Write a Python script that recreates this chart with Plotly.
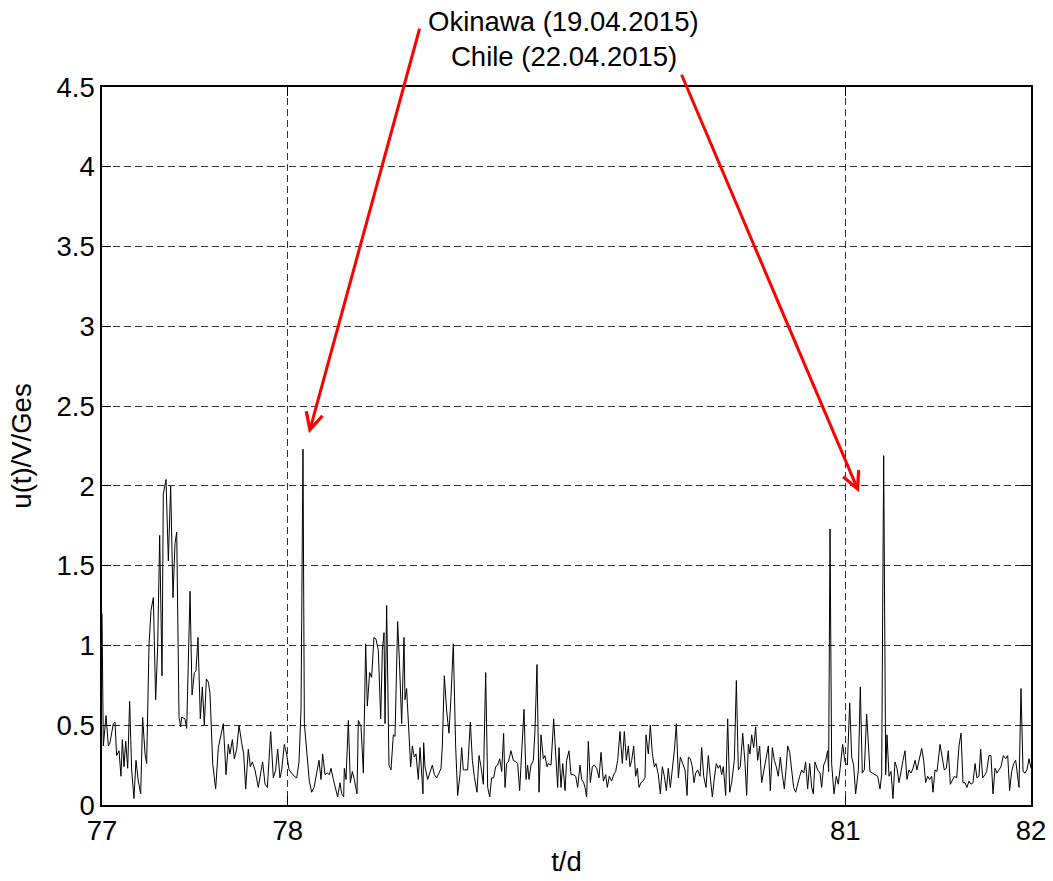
import plotly.graph_objects as go

# Ratio u(t)/V/Ges, sampled time in hours from the start of day 77
hours = [
    0.00, 0.17, 0.52, 0.82, 1.03, 1.46, 1.68, 1.89, 2.20, 2.45, 2.63, 2.84, 3.06, 3.32, 3.57, 3.83,
    4.13, 4.39, 4.69, 5.00, 5.25, 5.56, 5.77, 6.07, 6.33, 6.63, 6.93, 7.19, 7.45, 7.75, 7.92, 8.27,
    8.57, 8.87, 9.17, 9.43, 9.65, 9.95, 10.16, 10.29, 10.72, 10.94, 11.37, 11.63, 11.93, 12.14, 12.40,
    12.70, 12.96, 13.22, 13.48, 13.74, 13.95, 14.30, 14.68, 15.03,
    15.67, 16.02, 16.32, 16.53, 16.84, 17.09, 17.40, 17.70, 18.04, 18.30, 18.56, 18.90, 19.16, 19.42,
    19.76, 20.19, 20.50, 20.75, 21.06, 21.36, 21.79, 22.13, 22.43, 22.69, 22.99, 23.21, 23.55, 23.85,
    24.16, 24.50, 24.84, 25.15, 25.45, 25.71, 25.96, 26.14, 26.44, 26.78, 27.08, 27.39, 27.73, 28.03,
    28.29, 28.50, 28.81, 29.11, 29.37, 29.58, 29.88, 30.18, 30.44, 30.74,
    30.96, 31.22, 31.30, 31.52, 31.82, 32.08, 32.34, 32.59, 32.94, 33.11, 33.46, 33.76, 34.06, 34.27,
    34.57, 34.83, 35.13, 35.39, 35.69, 36.00, 36.21, 36.43, 36.56, 36.77, 36.90, 37.07, 37.33, 37.63,
    37.85, 38.19, 38.41, 38.71, 39.01, 39.14, 39.35, 39.66, 39.87, 40.09, 40.34, 40.56, 40.86, 41.08,
    41.29, 41.46, 41.55, 41.72, 42.07, 42.37, 42.67, 42.93, 43.23, 43.53, 43.79, 43.96, 44.22, 44.52,
    44.82, 45.08, 45.38, 45.68, 45.94, 46.24,
    46.46, 46.67, 46.89, 47.23, 47.58, 47.84, 48.09, 48.44, 48.70, 48.96, 49.26, 49.56, 49.82, 50.08,
    50.33, 50.59, 50.85, 51.11, 51.37, 51.63, 51.88, 52.06, 52.27, 52.49, 52.83, 53.13, 53.48, 53.69,
    53.95, 54.21, 54.51, 54.77, 54.98, 55.16, 55.42, 55.72, 55.93, 56.19, 56.45, 56.71, 57.01, 57.22,
    57.48, 57.65, 58.00, 58.34, 58.60, 58.86, 59.03, 59.29, 59.51, 59.81, 60.02, 60.32, 60.58, 60.88,
    61.19, 61.44, 61.75,
    61.96, 62.22, 62.39, 62.60, 62.82, 63.08, 63.34, 63.59, 63.90, 64.20, 64.46, 64.76, 65.06, 65.27,
    65.53, 65.83, 66.09, 66.35, 66.61, 66.91, 67.21, 67.47, 67.73, 67.99, 68.20, 68.42, 68.68, 68.93,
    69.15, 69.37, 69.62, 69.88, 70.14, 70.27, 70.57, 70.83, 71.09, 71.35, 71.56, 71.86, 72.12, 72.38,
    72.64, 72.90, 73.15, 73.41, 73.67, 73.93, 74.19, 74.45, 74.70, 74.96, 75.31, 75.57, 75.74, 76.00,
    76.25, 76.47, 76.69, 76.94, 77.25,
    77.46, 77.72, 78.02, 78.32, 78.54, 78.84, 79.10, 79.35, 79.61, 79.83, 80.04, 80.26, 80.56, 80.82,
    81.08, 81.33, 81.68, 81.94, 82.20, 82.45, 82.76, 83.06, 83.27, 83.49, 83.70, 83.92, 84.18, 84.43,
    84.69, 84.95, 85.21, 85.51, 85.77, 86.07, 86.33, 86.59, 86.85, 87.10, 87.36, 87.62, 87.88, 88.14,
    88.40, 88.57, 88.83, 89.08, 89.34, 89.60, 89.86, 90.12, 90.38, 90.64, 90.89, 91.15, 91.41, 91.67,
    91.88, 92.10, 92.44, 92.75,
    92.96, 93.22, 93.48, 93.73, 93.86, 94.04, 94.25, 94.55, 94.85, 95.11, 95.37, 95.67, 95.97, 96.28,
    96.58, 96.84, 97.09, 97.35, 97.70, 97.95, 98.21, 98.47, 98.77, 99.07, 99.20, 99.50, 99.85, 100.19,
    100.50, 100.71, 100.97, 101.23, 101.40, 101.66, 101.92, 102.17, 102.43, 102.69, 102.95, 103.21,
    103.47, 103.72, 103.98, 104.24, 104.50, 104.76, 105.02, 105.27, 105.53, 105.88, 106.14, 106.39,
    106.65, 106.91, 107.17, 107.34, 107.60, 107.86, 108.25,
    108.55, 108.80, 109.06, 109.32, 109.58, 109.84, 110.10, 110.40, 110.70, 110.96, 111.22, 111.47,
    111.73, 111.99, 112.25, 112.51, 112.77, 113.02, 113.28, 113.50, 113.76, 114.06, 114.27, 114.57,
    114.83, 115.09, 115.35, 115.61, 115.87, 116.12, 116.43, 116.73, 116.99, 117.24, 117.50, 117.76,
    118.02, 118.28, 118.45, 118.71, 118.97, 119.22, 119.48, 119.74, 120.00,
]

u_ratio = [
    1.20, 0.37, 0.56, 0.37, 0.39, 0.51, 0.52, 0.31, 0.34, 0.18, 0.41, 0.24, 0.40, 0.23, 0.65, 0.22,
    0.04, 0.28, 0.15, 0.07, 0.55, 0.32, 0.26, 1.00, 1.22, 1.30, 0.66, 0.99, 1.69, 0.81, 1.95, 2.04,
    1.53, 2.00, 1.30, 1.64, 1.71, 0.55, 0.49, 0.55, 0.54, 0.48, 1.34, 0.69, 0.83, 0.84, 1.05,
    0.54, 0.74, 0.50, 0.79, 0.77, 0.70, 0.26, 0.10, 0.36,
    0.51, 0.19, 0.38, 0.32, 0.41, 0.29, 0.35, 0.50, 0.39, 0.32, 0.10, 0.35, 0.24, 0.27,
    0.22, 0.11, 0.20, 0.27, 0.13, 0.11, 0.46, 0.17, 0.22, 0.35, 0.17, 0.22, 0.38, 0.32,
    0.22, 0.20, 0.18, 0.17, 0.27, 0.60, 2.23, 0.51, 0.32, 0.15, 0.08, 0.11, 0.20, 0.28,
    0.16, 0.32, 0.19, 0.20, 0.19, 0.23, 0.16, 0.11, 0.05, 0.14,
    0.07, 0.05, 0.23, 0.16, 0.53, 0.14, 0.21, 0.16, 0.07, 0.53, 0.49, 0.20, 1.01, 0.62,
    0.83, 0.80, 1.05, 1.04, 0.97, 0.54, 0.97, 1.08, 0.51, 1.25, 0.91, 0.25, 0.22, 0.44,
    0.43, 1.15, 0.91, 0.51, 1.05, 0.66, 0.73, 0.39, 0.24, 0.37, 0.30, 0.32, 0.16, 0.36,
    0.18, 0.07, 0.39, 0.24, 0.16, 0.21, 0.25, 0.19, 0.17, 0.20, 0.23, 0.37, 0.81, 0.59,
    0.45, 0.68, 1.01, 0.37, 0.06, 0.19,
    0.36, 0.22, 0.22, 0.22, 0.52, 0.28, 0.18, 0.08, 0.31, 0.24, 0.13, 0.83, 0.11, 0.05,
    0.17, 0.17, 0.24, 0.25, 0.29, 0.21, 0.45, 0.11, 0.26, 0.27, 0.34, 0.28, 0.27, 0.26,
    0.09, 0.32, 0.60, 0.16, 0.25, 0.16, 0.25, 0.28, 0.47, 0.88, 0.08, 0.44, 0.29, 0.31,
    0.24, 0.26, 0.25, 0.54, 0.32, 0.11, 0.36, 0.11, 0.26, 0.09, 0.28, 0.34, 0.19, 0.19,
    0.18, 0.11, 0.25,
    0.16, 0.14, 0.11, 0.05, 0.40, 0.14, 0.24, 0.25, 0.23, 0.17, 0.33, 0.15, 0.19, 0.11,
    0.18, 0.15, 0.19, 0.21, 0.28, 0.46, 0.26, 0.46, 0.28, 0.37, 0.24, 0.28, 0.37, 0.18,
    0.23, 0.11, 0.14, 0.15, 0.17, 0.44, 0.32, 0.50, 0.32, 0.24, 0.26, 0.19, 0.07, 0.24,
    0.18, 0.09, 0.23, 0.11, 0.22, 0.34, 0.51, 0.17, 0.30, 0.26, 0.22, 0.06, 0.30, 0.29,
    0.24, 0.14, 0.20, 0.22, 0.18,
    0.36, 0.18, 0.11, 0.31, 0.19, 0.05, 0.17, 0.26, 0.23, 0.25, 0.19, 0.24, 0.06, 0.54,
    0.08, 0.14, 0.28, 0.78, 0.22, 0.24, 0.45, 0.26, 0.06, 0.38, 0.32, 0.44, 0.36, 0.49,
    0.28, 0.37, 0.14, 0.22, 0.28, 0.37, 0.09, 0.36, 0.28, 0.24, 0.18, 0.30, 0.19, 0.10,
    0.25, 0.37, 0.33, 0.21, 0.11, 0.08, 0.14, 0.18, 0.22, 0.20, 0.27, 0.10, 0.26, 0.11,
    0.07, 0.27, 0.22, 0.20,
    0.11, 0.25, 0.28, 0.34, 0.21, 1.73, 0.26, 0.07, 0.18, 0.13, 0.24, 0.38, 0.27, 0.25,
    0.64, 0.30, 0.25, 0.07, 0.22, 0.74, 0.20, 0.22, 0.57, 0.25, 0.21, 0.20, 0.19, 0.18,
    0.10, 0.19, 2.19, 0.19, 0.44, 0.18, 0.21, 0.04, 0.27, 0.23, 0.14, 0.22,
    0.28, 0.34, 0.16, 0.22, 0.20, 0.23, 0.28, 0.22, 0.28, 0.355, 0.28, 0.14,
    0.18, 0.16, 0.18, 0.08, 0.22, 0.21, 0.38,
    0.30, 0.22, 0.23, 0.34, 0.13, 0.16, 0.18, 0.17, 0.37, 0.45, 0.14, 0.14,
    0.11, 0.15, 0.13, 0.14, 0.26, 0.17, 0.18, 0.35, 0.17, 0.19, 0.21, 0.31,
    0.31, 0.07, 0.23, 0.20, 0.22, 0.24, 0.31, 0.29, 0.31, 0.09, 0.21, 0.26,
    0.28, 0.17, 0.11, 0.73, 0.21, 0.20, 0.22, 0.29, 0.23,
]

START_DAY = 77
x_ticks = [77, 78, 81, 82]
y_ticks = [0, 0.5, 1, 1.5, 2, 2.5, 3, 3.5, 4, 4.5]
y_tick_text = ["0", "0.5", "1", "1.5", "2", "2.5", "3", "3.5", "4", "4.5"]

# Events marked on the chart: (label, day, value at arrow tip)
event_labels = ["Okinawa (19.04.2015)", "Chile (22.04.2015)"]
event_days = [78.114, 81.074]
event_levels = [2.33, 1.96]

assert len(hours) == len(u_ratio)
t_days = [START_DAY + h / 24.0 for h in hours]

FONT = "Liberation Sans, Arial, sans-serif"
FSIZE = 27.5

fig = go.Figure()
fig.add_trace(go.Scatter(
    x=t_days, y=u_ratio, mode="lines",
    line=dict(color="black", width=1),
    showlegend=False, hoverinfo="skip",
))

axis_common = dict(
    showline=True, linecolor="black", linewidth=1.5, mirror="ticks",
    ticks="inside", ticklen=9, tickwidth=1, tickcolor="black",
    showgrid=True, gridcolor="rgb(50,50,50)", gridwidth=1, griddash="7px,4px",
    zeroline=False, tickfont=dict(family=FONT, size=FSIZE, color="black"),
)

fig.update_xaxes(
    range=[77, 82], tickmode="array", tickvals=x_ticks,
    ticktext=[str(v) for v in x_ticks],
    title=dict(text="t/d", font=dict(family=FONT, size=FSIZE, color="black"), standoff=7),
    **axis_common,
)
fig.update_yaxes(
    range=[0, 4.5], tickmode="array", tickvals=y_ticks, ticktext=y_tick_text,
    title=dict(text="u(t)/V/Ges", font=dict(family=FONT, size=FSIZE, color="black"), standoff=17),
    ticklabelstandoff=0,
    **axis_common,
)

# Event labels above the plot area
fig.add_annotation(text=event_labels[0], xref="paper", yref="paper", x=0.4973, y=1.0919,
                   showarrow=False, xanchor="center", yanchor="middle",
                   font=dict(family=FONT, size=FSIZE, color="black"))
fig.add_annotation(text=event_labels[1], xref="paper", yref="paper", x=0.4973, y=1.0420,
                   showarrow=False, xanchor="center", yanchor="middle",
                   font=dict(family=FONT, size=FSIZE, color="black"))

# Red arrows pointing at the two events
arrow_offsets = [(111, -406), (-178, -419)]
for day, level, (ax, ay) in zip(event_days, event_levels, arrow_offsets):
    fig.add_annotation(
        x=day, y=level, xref="x", yref="y", text="",
        showarrow=True, ax=ax, ay=ay, axref="pixel", ayref="pixel",
        arrowcolor="red", arrowwidth=3, arrowhead=5, arrowsize=1.1, standoff=0,
    )

fig.update_layout(
    width=1053, height=881, autosize=False,
    margin=dict(l=102, r=22, t=87, b=76, autoexpand=False),
    paper_bgcolor="white", plot_bgcolor="white",
    font=dict(family=FONT, size=FSIZE, color="black"),
)

fig.write_html("out.html")
